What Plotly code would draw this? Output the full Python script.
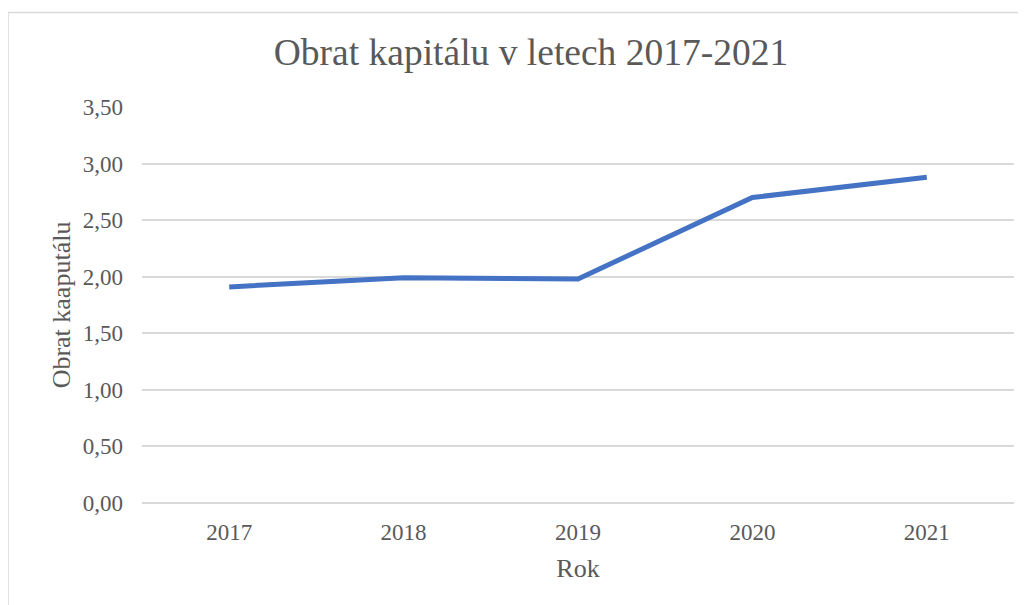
import plotly.graph_objects as go

roky = ["2017", "2018", "2019", "2020", "2021"]
obrat_kapitalu = [1.91, 1.99, 1.98, 2.70, 2.88]
y_ticks = [0, 0.5, 1.0, 1.5, 2.0, 2.5, 3.0, 3.5]
y_labels = ["0,00", "0,50", "1,00", "1,50", "2,00", "2,50", "3,00", "3,50"]

font_name = "Liberation Serif, Times New Roman, serif"
text_color = "#595959"

fig = go.Figure()
fig.add_trace(go.Scatter(x=roky, y=obrat_kapitalu, mode="lines",
                         line=dict(color="#4472C4", width=5),
                         showlegend=False))

# page has an 8px body margin, so positions are shifted by 8px
fig.update_layout(
    width=1026, height=605,
    margin=dict(l=134, r=20, t=99, b=110),
    paper_bgcolor="white", plot_bgcolor="white",
    font=dict(family=font_name, color=text_color),
    title=dict(text="Obrat kapitálu v letech 2017-2021",
               font=dict(family=font_name, size=37.5, color=text_color),
               x=523 / 1026, xanchor="center", y=1 - 44 / 605, yanchor="middle"),
    xaxis=dict(type="category", range=[-0.5, 4.5], showgrid=False,
               showline=False, zeroline=False, ticks="", automargin=False,
               ticklabelstandoff=13,
               tickfont=dict(family=font_name, size=23, color=text_color),
               title=dict(text="Rok", font=dict(family=font_name, size=26, color=text_color),
                          standoff=14)),
    yaxis=dict(range=[0, 3.5], tickvals=y_ticks, ticktext=y_labels,
               showgrid=True, gridcolor="#d9d9d9", gridwidth=1.5,
               zeroline=True, zerolinecolor="#d9d9d9", zerolinewidth=1.5,
               showline=False, ticks="", ticklabelstandoff=18, automargin=False,
               tickfont=dict(family=font_name, size=23, color=text_color),
               title=dict(text="Obrat kaaputálu",
                          font=dict(family=font_name, size=26, color=text_color), standoff=4)),
)

# chart area border (Excel style)
fig.add_shape(type="rect", xref="paper", yref="paper",
              x0=(0 - 134) / 872, x1=1.2, y0=-0.5, y1=(495.3 - 4) / 396.6,
              line=dict(color="#d9d9d9", width=1.5), fillcolor="rgba(0,0,0,0)",
              layer="below")

fig.write_html("out.html")
